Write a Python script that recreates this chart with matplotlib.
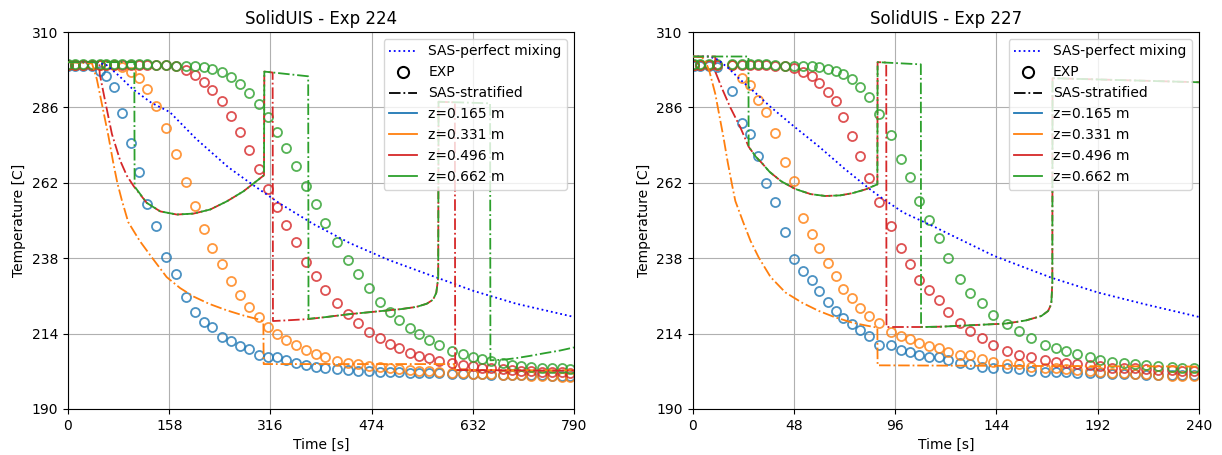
import matplotlib
matplotlib.use("Agg")
import matplotlib.pyplot as plt
from matplotlib.lines import Line2D
import numpy as np

# ---------------- Exp 224 ----------------
t_exp_224 = [0, 11, 24, 37, 50, 60, 72, 85, 98, 111, 124, 137, 153, 169, 185, 199, 212, 225, 240, 254,
             268, 282, 298, 313, 327, 341, 356, 372, 387, 402, 420, 437, 452, 470, 487, 503, 517, 534, 548, 564,
             580, 599, 616, 632, 647, 661, 679, 693, 707, 723, 740, 755, 771, 784]
exp224_z0165 = [299.1, 299.1, 299.1, 299.1, 297.7, 295.9, 292.6, 284.2, 274.6, 265.5,
                255.4, 248.3, 238.5, 232.9, 225.7, 220.9, 217.8, 216.1, 213.0, 211.7,
                210.1, 209.0, 207.2, 206.4, 206.4, 205.5, 204.8, 203.9, 203.5, 203.2,
                202.8, 202.4, 202.1, 202.0, 201.9, 201.8, 201.7, 201.6, 201.5, 201.4,
                201.3, 201.2, 201.1, 201.0, 201.0, 200.9, 200.9, 200.8, 200.8, 200.7,
                200.7, 200.6, 200.6, 200.5]
exp224_z0331 = [299.5, 299.5, 299.5, 299.5, 299.5, 299.5, 299.5, 298.8, 297.4, 295.3,
                291.7, 286.5, 279.3, 271.1, 262.3, 254.5, 247.4, 241.4, 236.1, 230.8,
                226.2, 222.5, 219.3, 216.1, 214.0, 211.9, 210.3, 208.7, 207.6, 206.4,
                205.3, 204.6, 204.3, 203.8, 203.4, 203.0, 202.7, 202.4, 202.2, 202.0,
                201.8, 201.6, 201.4, 201.2, 201.1, 201.0, 200.9, 200.8, 200.7, 200.6,
                200.5, 200.4, 200.3, 200.2]
exp224_z0496 = [299.4, 299.4, 299.4, 299.4, 299.4, 299.4, 299.4, 299.4, 299.4, 299.4,
                299.4, 299.4, 299.4, 299.1, 298.0, 296.4, 294.2, 291.6, 288.1, 283.3,
                278.2, 272.5, 266.5, 259.9, 254.2, 248.6, 243.0, 236.9, 232.3, 227.9,
                223.6, 220.2, 217.3, 214.6, 212.5, 210.6, 209.3, 207.9, 206.9, 206.2,
                205.3, 204.6, 204.0, 203.6, 203.2, 202.9, 202.6, 202.4, 202.2, 202.0,
                201.9, 201.8, 201.7, 201.6]
exp224_z0662 = [299.8, 299.8, 299.8, 299.8, 299.8, 299.8, 299.8, 299.8, 299.8, 299.8,
                299.8, 299.6, 299.6, 299.3, 299.1, 299.1, 298.8, 298.1, 297.2, 295.6,
                293.5, 290.6, 287.1, 282.8, 278.2, 273.2, 267.3, 260.9, 255.1, 249.1,
                243.0, 237.5, 233.0, 228.5, 224.2, 220.9, 218.3, 215.9, 213.8, 211.9,
                210.3, 208.5, 207.4, 206.7, 205.8, 205.3, 204.5, 203.9, 203.7, 203.4,
                203.2, 203.0, 202.9, 202.7]

mix224_t = [0, 45, 60, 80, 100, 130, 159, 200, 250, 284, 330, 382, 440, 500, 560, 633, 700, 790]
mix224_T = [300.4, 300.4, 299.5, 296.0, 292.0, 287.5, 284.5, 276.0, 267.0, 262.0, 255.5, 249.0,
            242.8, 237.5, 233.0, 227.6, 223.5, 219.3]

strat224_t_0331 = [0, 37.5, 45, 53, 63, 71, 77, 84, 94, 112, 130, 154, 175, 196, 220, 248, 275, 300,
                   305, 305.5, 450, 603, 604, 790]
strat224_T_0331 = [300.4, 300.0, 295.0, 287.0, 277.0, 268.0, 262.0, 256.5, 249.5, 243.5, 238.5, 232.0,
                   228.5, 225.8, 223.5, 221.4, 219.7, 218.4, 217.8, 204.3, 204.3, 204.3, 202.4, 202.3]
strat224_t_0496 = [0, 49, 49.5, 58, 68.6, 81.6, 92, 103, 123, 144, 170, 196, 222, 248, 274, 306, 306.5,
                   319.5, 320, 340, 374, 400, 440, 480, 520, 544, 560, 570, 575, 578, 578.5, 604, 604.5,
                   700, 790]
strat224_T_0496 = [300.4, 300.4, 296.7, 288.0, 277.5, 269.0, 264.2, 260.8, 255.6, 252.9, 251.9, 252.2,
                   253.5, 256.1, 259.3, 264.4, 297.4, 297.1, 218.0, 218.2, 218.6, 219.2, 220.2, 221.0,
                   221.8, 222.5, 223.5, 224.8, 227.0, 231.8, 287.8, 287.6, 202.4, 202.3, 202.2]
strat224_t_0662 = [0, 103.5, 104, 123, 144, 170, 196, 222, 248, 274, 306, 306.5, 375, 375.5, 400, 440,
                   480, 520, 544, 560, 570, 575, 578, 578.5, 659, 659.5, 680, 700, 721, 745, 768, 790]
strat224_T_0662 = [300.4, 300.4, 260.8, 255.6, 252.9, 251.9, 252.2, 253.5, 256.1, 259.3, 264.4, 297.4,
                   295.9, 218.7, 219.2, 220.2, 221.0, 221.8, 222.5, 223.5, 224.8, 227.0, 231.8, 287.8,
                   287.3, 205.5, 205.7, 206.2, 206.9, 207.8, 208.6, 209.6]

# ---------------- Exp 227 ----------------
t_exp_227 = [0.5, 3.7, 7.6, 11.6, 18.7, 23.5, 27.1, 31.1, 35.0, 39.3, 43.7, 48.0, 52.5, 56.4, 59.9,
             64.3, 67.8, 71.3, 75.7, 79.4, 83.7, 88.4, 94.0, 98.7, 103.0, 107.4, 111.9, 116.6, 121.0,
             126.8, 131.5, 137.2, 142.6, 149.0, 154.5, 160.5, 166.8, 172.4, 177.1, 182.4, 188.5,
             193.3, 198.9, 204.4, 209.6, 214.7, 220.4, 227.0, 232.0, 237.6]
exp227_z0165 = [299.3, 299.3, 299.3, 298.8, 291.1, 281.0, 277.5, 270.5, 261.8, 256.0,
                246.4, 237.9, 234.0, 231.1, 227.6, 224.1, 221.2, 219.1, 217.2, 215.1,
                213.3, 210.3, 210.3, 208.8, 208.2, 207.1, 206.7, 206.4, 205.5, 204.6,
                204.3, 203.5, 203.2, 202.9, 202.7, 202.2, 201.9, 201.9, 201.9, 201.6,
                201.4, 201.3, 201.1, 201.1, 201.1, 200.9, 200.9, 200.9, 200.9, 200.8]
exp227_z0331 = [299.6, 299.6, 299.6, 299.6, 299.6, 295.4, 293.2, 288.5, 284.6, 278.0,
                268.7, 262.5, 250.7, 245.6, 241.2, 236.4, 232.4, 228.1, 225.3, 222.3,
                219.6, 217.5, 214.5, 213.3, 212.2, 211.1, 210.1, 209.5, 208.0, 207.2,
                207.2, 205.9, 205.1, 204.3, 204.3, 203.5, 203.2, 202.9, 202.7, 202.4,
                202.1, 201.9, 201.6, 201.4, 201.1, 201.1, 200.9, 200.5, 200.5, 200.5]
exp227_z0496 = [299.6, 299.6, 299.6, 299.6, 299.6, 299.6, 299.6, 299.6, 299.6, 299.3,
                299.1, 298.6, 297.2, 295.9, 293.8, 291.0, 288.1, 282.8, 276.9, 270.5,
                263.6, 255.8, 248.3, 241.2, 236.3, 231.1, 227.8, 224.6, 220.8, 217.5,
                214.9, 212.5, 210.3, 208.5, 207.2, 206.6, 205.5, 205.0, 204.8, 204.3,
                204.0, 203.7, 203.2, 203.0, 202.9, 202.7, 202.4, 202.3, 202.1, 202.1]
exp227_z0662 = [299.9, 299.9, 299.9, 299.9, 299.9, 299.9, 299.9, 299.9, 299.7, 299.6,
                299.3, 299.3, 299.1, 299.3, 298.8, 298.3, 297.7, 296.7, 295.1, 292.4,
                289.2, 283.9, 277.2, 269.7, 263.8, 256.1, 250.3, 244.4, 238.2, 231.5,
                226.9, 223.6, 219.9, 217.2, 214.9, 212.5, 210.4, 209.5, 208.5, 207.4,
                206.6, 205.5, 205.1, 204.8, 204.3, 204.0, 203.7, 203.4, 203.2, 203.2]

mix227_t = [0, 8, 12, 17, 22.7, 30, 36.9, 48, 60, 72, 84, 90, 100, 114, 120, 143, 170, 192, 214, 240]
mix227_T = [302.2, 302.2, 301.2, 298.5, 294.8, 290.5, 286.2, 280.0, 273.5, 266.5, 260.0, 257.0,
            252.5, 248.2, 246.2, 238.7, 231.8, 227.1, 223.4, 219.3]

strat227_t_0331 = [0, 4.4, 6, 8, 10.8, 12.7, 14.7, 16.7, 18.7, 20.3, 24, 27.5, 31.4, 37, 44, 52, 59.9,
                   67.5, 75.7, 82, 87.6, 87.7, 160, 240]
strat227_T_0331 = [302.2, 302.0, 301.0, 297.5, 290.3, 283.5, 276.4, 268.5, 261.5, 256.2, 249.5, 243.5,
                   238.2, 232.0, 227.1, 223.8, 221.2, 219.2, 217.5, 216.6, 215.9, 203.9, 203.7, 203.5]
strat227_t_0496 = [0, 10.8, 10.9, 14, 17.9, 22.7, 26.6, 30, 33, 36.5, 42, 48.8, 56, 63, 70, 75.8, 82,
                   87.6, 87.7, 91.8, 91.9, 100, 108.3, 117.7, 130, 148.6, 158, 165.3, 168.5, 170, 170.5,
                   170.6, 240]
strat227_T_0496 = [302.2, 302.2, 297.2, 292.0, 286.0, 279.6, 273.5, 270.3, 268.2, 265.5, 262.5, 260.0,
                   258.4, 257.8, 258.0, 258.7, 259.9, 261.5, 300.4, 300.3, 216.1, 216.1, 216.1, 216.2,
                   216.6, 217.2, 218.2, 219.6, 221.2, 223.4, 230.0, 295.3, 294.0]
strat227_t_0662 = [0, 26.5, 26.6, 30, 33, 36.5, 42, 48.8, 56, 63, 70, 75.8, 82, 87.6, 87.7, 108.2,
                   108.3, 117.7, 130, 148.6, 158, 165.3, 168.5, 170, 170.5, 170.6, 240]
strat227_T_0662 = [302.2, 302.2, 273.5, 270.3, 268.2, 265.5, 262.5, 260.0, 258.4, 257.8, 258.0, 258.7,
                   259.9, 261.5, 300.4, 299.7, 216.1, 216.2, 216.6, 217.2, 218.2, 219.6, 221.2, 223.4,
                   230.0, 295.3, 294.0]

z_labels = ["z=0.165 m", "z=0.331 m", "z=0.496 m", "z=0.662 m"]
z_colors = ["tab:blue", "tab:orange", "tab:red", "tab:green"]
titles = ["SolidUIS - Exp 224", "SolidUIS - Exp 227"]
x_max = [790, 240]

panels = [
    dict(t_exp=t_exp_224, exp=[exp224_z0165, exp224_z0331, exp224_z0496, exp224_z0662],
         mix=(mix224_t, mix224_T),
         strat=[None, (strat224_t_0331, strat224_T_0331), (strat224_t_0496, strat224_T_0496),
                (strat224_t_0662, strat224_T_0662)]),
    dict(t_exp=t_exp_227, exp=[exp227_z0165, exp227_z0331, exp227_z0496, exp227_z0662],
         mix=(mix227_t, mix227_T),
         strat=[None, (strat227_t_0331, strat227_T_0331), (strat227_t_0496, strat227_T_0496),
                (strat227_t_0662, strat227_T_0662)]),
]

fig = plt.figure(figsize=(12.22, 4.55), dpi=100)
positions = [[68 / 1222, 1 - 409 / 455, 506 / 1222, 377 / 455],
             [692.5 / 1222, 1 - 409 / 455, 506.5 / 1222, 377 / 455]]

for i, p in enumerate(panels):
    ax = fig.add_axes(positions[i])
    ax.plot(p["mix"][0], p["mix"][1], linestyle=":", color="blue", lw=1.3, zorder=3)
    for k in range(4):
        ax.plot(p["t_exp"], p["exp"][k], linestyle="none", marker="o", ms=6.5, mfc="none",
                mec=z_colors[k], mew=1.3, alpha=0.8, zorder=2)
    for k in range(4):
        s = p["strat"][k]
        if s is None:
            continue
        ax.plot(s[0], s[1], linestyle="-.", color=z_colors[k], lw=1.3, zorder=4)
    ax.set_xlim(0, x_max[i])
    ax.set_ylim(190, 310)
    ax.set_xticks(np.linspace(0, x_max[i], 6))
    ax.set_yticks(np.linspace(190, 310, 6))
    ax.grid(True)
    ax.set_title(titles[i])
    ax.set_xlabel("Time [s]")
    ax.set_ylabel("Temperature [C]")
    handles = [Line2D([], [], linestyle=":", color="blue", lw=1.3, label="SAS-perfect mixing"),
               Line2D([], [], linestyle="none", marker="o", ms=8, mfc="none", mec="black", mew=1.5,
                      label="EXP"),
               Line2D([], [], linestyle="-.", color="black", lw=1.3, label="SAS-stratified")]
    for k in range(4):
        handles.append(Line2D([], [], color=z_colors[k], lw=1.3, label=z_labels[k]))
    ax.legend(handles=handles, loc="upper right")

fig.savefig("out.png", dpi=100)
